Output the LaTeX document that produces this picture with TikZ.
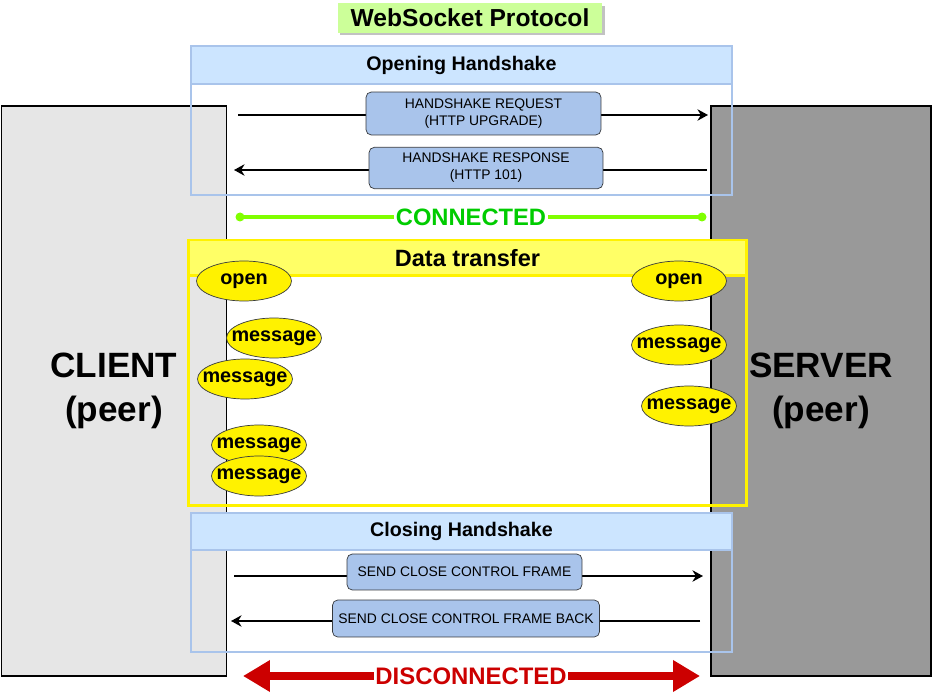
\documentclass[tikz,border=0pt]{standalone}
\usepackage{fontspec}
\setmainfont{Liberation Sans}
\usetikzlibrary{shapes.geometric,arrows.meta,shadows}

\definecolor{titlegreen}{HTML}{CCFF99}
\definecolor{hsblue}{HTML}{CCE5FF}
\definecolor{hsborder}{HTML}{A9C4EB}
\definecolor{darkline}{HTML}{36393D}
\definecolor{clientgray}{HTML}{E6E6E6}
\definecolor{servergray}{HTML}{999999}
\definecolor{datayellow}{HTML}{FFFF66}
\definecolor{conngreen}{HTML}{00CC00}
\definecolor{connline}{HTML}{80FF00}
\definecolor{discred}{HTML}{CC0000}

\begin{document}
\begin{tikzpicture}[x=0.02cm, y=-0.02cm, >=Stealth]
    \useasboundingbox (0,0) rectangle (934,696);

    % Define styles
    \tikzstyle{peer}=[rectangle, draw=black, thick, align=center, minimum height=11.4cm, font=\fontsize{20}{25}\selectfont\bfseries]
    \tikzstyle{frame}=[rectangle, draw=hsborder, line width=1pt, minimum width=10.82cm]
    \tikzstyle{head}=[rectangle, draw=hsborder, line width=1pt, fill=hsblue, minimum width=10.82cm, font=\fontsize{11.2}{13}\selectfont\bfseries]
    \tikzstyle{frameitem}=[rectangle, rounded corners=3pt, draw=darkline, fill=hsborder, align=center, font=\fontsize{7.9}{9.7}\selectfont]
    \tikzstyle{evt}=[ellipse, draw=darkline, fill=yellow, minimum width=1.9cm, minimum height=0.8cm, inner xsep=-0.25cm, inner ysep=0pt, font=\fontsize{11.3}{13}\selectfont\bfseries]
    \tikzstyle{hsarrow}=[line width=1.4pt, -{Stealth[length=6pt, width=6.5pt]}]

    \node[peer, fill=clientgray, minimum width=4.5cm] (client) at (114,391) {CLIENT\\(peer)};
    \node[peer, fill=servergray, minimum width=4.4cm] (server) at (821,391) {SERVER\\(peer)};

    \node[fill=titlegreen, minimum width=5.3cm, minimum height=0.6cm, font=\fontsize{14}{16}\selectfont\bfseries,
          drop shadow={shadow xshift=0.05cm, shadow yshift=-0.05cm, fill=black!40, opacity=0.6}] (title) at (470,18) {WebSocket Protocol};

    % opening handshake
    \node[frame, minimum height=2.98cm] (openframe) at (461.5,120.5) {};
    \node[head, minimum height=0.76cm] (openhead) at (461.5,65) {Opening Handshake};
    \coordinate (reqL) at (238,115);
    \coordinate (reqR) at (708,115);
    \coordinate (respR) at (707,170);
    \coordinate (respL) at (234,170);
    \draw[hsarrow] (reqL) -- (reqR);
    \draw[hsarrow] (respR) -- (respL);
    \node[frameitem, minimum width=4.7cm, minimum height=0.86cm] (req) at (483.5,113.5) {HANDSHAKE REQUEST\\(HTTP UPGRADE)};
    \node[frameitem, minimum width=4.68cm, minimum height=0.8cm] (resp) at (486,168) {HANDSHAKE RESPONSE\\(HTTP 101)};

    % connected
    \coordinate (connL) at (240,217);
    \coordinate (connR) at (702,217);
    \draw[connline, line width=1.8pt] (connL) -- (connR);
    \fill[connline] (connL) circle (4.5);
    \fill[connline] (connR) circle (4.5);
    \node[fill=white, inner sep=1pt, text=conngreen, font=\fontsize{13.5}{16}\selectfont\bfseries] (conn) at (471,217) {CONNECTED};

    % data transfer
    \node[rectangle, draw=yellow, line width=1.7pt, minimum width=11.18cm, minimum height=5.32cm] (dataframe) at (467.5,373) {};
    \node[rectangle, fill=datayellow, minimum width=11.1cm, minimum height=0.68cm, font=\fontsize{13.4}{16}\selectfont\bfseries] (datahead) at (467.5,258) {Data transfer};
    \draw[yellow, line width=1.7pt] (datahead.south west) -- (datahead.south east);

    \node[evt] (copen) at (244,281) {open};
    \node[evt] (sopen) at (679,281) {open};
    \node[evt] (cmsga) at (274,338) {message};
    \node[evt] (cmsgb) at (245,379) {message};
    \node[evt] (cmsgc) at (259,445) {message};
    \node[evt] (cmsgd) at (259,476) {message};
    \node[evt] (smsga) at (679,345) {message};
    \node[evt] (smsgb) at (689,406) {message};

    % closing handshake
    \node[frame, minimum height=2.78cm] (closeframe) at (461.5,582.5) {};
    \node[head, minimum height=0.74cm] (closehead) at (461.5,531.5) {Closing Handshake};
    \coordinate (clsL) at (234,576);
    \coordinate (clsR) at (703,576);
    \coordinate (backR) at (700,621);
    \coordinate (backL) at (231,621);
    \draw[hsarrow] (clsL) -- (clsR);
    \draw[hsarrow] (backR) -- (backL);
    \node[frameitem, minimum width=4.7cm, minimum height=0.72cm] (cls) at (464.5,572) {SEND CLOSE CONTROL FRAME};
    \node[frameitem, minimum width=5.28cm, minimum height=0.74cm] (clsback) at (466,618.5) {SEND CLOSE CONTROL FRAME BACK};

    % disconnected
    \coordinate (discL) at (243,676);
    \coordinate (discR) at (700,676);
    \draw[discred, line width=4.5pt, {Triangle[length=0.54cm, width=0.6cm]}-{Triangle[length=0.54cm, width=0.6cm]}] (discL) -- (discR);
    \node[fill=white, inner sep=1pt, text=discred, font=\fontsize{13.6}{16}\selectfont\bfseries] (disc) at (471,676) {DISCONNECTED};
\end{tikzpicture}
\end{document}
